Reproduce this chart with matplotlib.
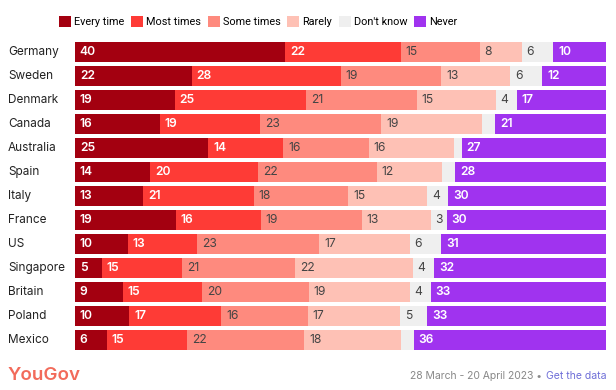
import numpy as np
import matplotlib.pyplot as plt
from matplotlib.patches import Patch
from matplotlib.transforms import blended_transform_factory

plt.rcParams['font.family'] = ['Inter', 'DejaVu Sans']

# data (percent)
countries = ['Germany', 'Sweden', 'Denmark', 'Canada', 'Australia', 'Spain', 'Italy',
             'France', 'US', 'Singapore', 'Britain', 'Poland', 'Mexico']
every_time = [40, 22, 19, 16, 25, 14, 13, 19, 10, 5, 9, 10, 6]
most_times = [22, 28, 25, 19, 14, 20, 21, 16, 13, 15, 15, 17, 15]
some_times = [15, 19, 21, 23, 16, 22, 18, 19, 23, 21, 20, 16, 22]
rarely = [8, 13, 15, 19, 16, 12, 15, 13, 17, 22, 19, 17, 18]
dont_know = [6, 6, 4, 2.5, 1.5, 2.5, 4, 3, 6, 4, 4, 5, 2.5]
never = [10, 12, 17, 21, 27, 28, 30, 30, 31, 32, 33, 33, 36]

series_names = ['Every time', 'Most times', 'Some times', 'Rarely', "Don't know", 'Never']
colors = ['#a30010', '#fe3b36', '#fe8a7e', '#fec1b5', '#efefef', '#a033ef']
text_colors = ['white', 'white', '#444444', '#444444', '#444444', 'white']

series = np.array([every_time, most_times, some_times, rarely, dont_know, never], dtype=float)
shares = series / series.sum(axis=0) * 100  # bars fill the full width

fig = plt.figure(figsize=(6.16, 3.9), dpi=100)
ax = fig.add_axes([75 / 616, 1 - 352 / 390, 531 / 616, 312 / 390])

y = np.arange(len(countries))
left = np.zeros(len(countries))
for i, name in enumerate(series_names):
    ax.barh(y, shares[i], left=left, height=0.82, color=colors[i], linewidth=0)
    for j in range(len(countries)):
        if shares[i, j] >= 2.9:
            ax.text(left[j] + 0.9, y[j], f'{series[i, j]:g}', va='center', ha='left',
                    fontsize=8.7, color=text_colors[i],
                    fontweight='semibold' if text_colors[i] == 'white' else 'normal')
    left += shares[i]

ax.set_xlim(0, 100)
ax.set_ylim(len(countries) - 0.5, -0.5)
ax.axis('off')

# country names at the left edge
tr = blended_transform_factory(fig.transFigure, ax.transData)
for j, c in enumerate(countries):
    ax.text(8 / 616, y[j], c, transform=tr, ha='left', va='center', fontsize=8.5, color='#222222')

# legend
handles = [Patch(facecolor=c, edgecolor='none') for c in colors]
fig.legend(handles, series_names, loc='upper left', bbox_to_anchor=(55 / 616, 1 - 12 / 390),
           ncol=6, frameon=False, prop={'family': 'Roboto', 'size': 7.8},
           handlelength=1.1, handleheight=1.1,
           handletextpad=0.3, columnspacing=0.6, borderaxespad=0)

# footer
fig.text(8 / 616, 1 - 376 / 390, 'YouGov', fontsize=13.5, fontweight='semibold', color='#f26b5b',
         ha='left', va='center')
fig.text(606 / 616, 1 - 376 / 390, 'Get the data', fontsize=7.5, color='#6e6ed8',
         ha='right', va='center')
fig.text(545 / 616, 1 - 376 / 390, '28 March - 20 April 2023 \u2022 ', fontsize=7.5,
         color='#888888', ha='right', va='center')

fig.savefig('out.png', dpi=100)
